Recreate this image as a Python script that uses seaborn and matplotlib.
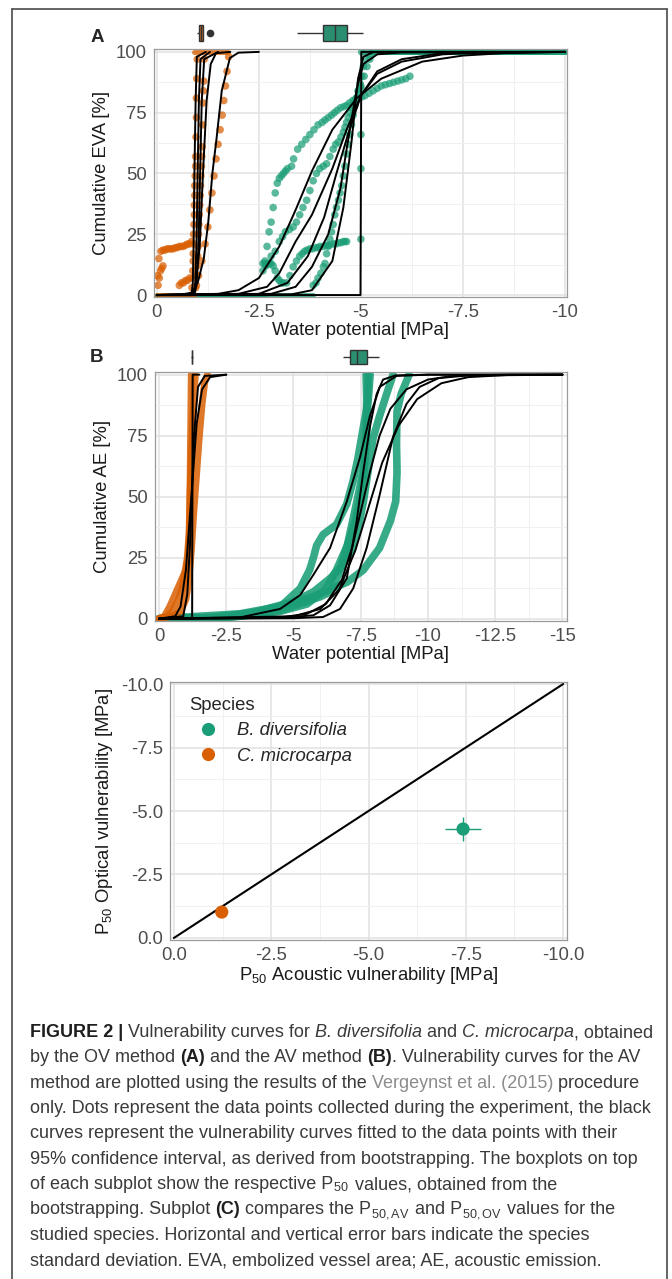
import numpy as np
import pandas as pd
import matplotlib
matplotlib.use("Agg")
from matplotlib import pyplot as plt
from matplotlib.lines import Line2D
import seaborn as sns

GREEN = "#1B9E77"
ORANGE = "#D95F02"
SPECIES = ["B. diversifolia", "C. microcarpa"]

# ---------------- panel A: optical method (EVA) ----------------
# observed points, B. diversifolia
a_bd_pts_x = [
    [-2.6, -2.65, -2.7, -2.75, -2.8, -2.85, -2.9, -2.95, -3.0, -3.05, -3.1, -3.15, -3.2, -3.3, -3.35,
     -3.45, -3.55, -3.65, -3.75, -3.85, -3.95, -4.05, -4.12, -4.2, -4.28, -4.35, -4.42, -4.5, -4.58,
     -4.65, -4.72, -4.8, -4.88, -4.95, -5.02, -5.1, -5.2, -5.3, -5.4, -5.5, -5.6, -5.7, -5.8, -5.9,
     -6.0, -6.1, -6.2],
    [-2.67, -2.75, -2.8, -2.9, -3.0, -3.08, -3.15, -3.25, -3.34, -3.42, -3.5, -3.58, -3.67, -3.75, -3.83,
     -3.91, -3.99, -4.08, -4.16, -4.24, -4.32, -4.38, -4.45, -4.51, -4.57, -4.61, -4.65, -4.69, -4.73,
     -4.77, -4.8, -4.85, -4.89, -4.95, -5.0, -5.08, -5.15, -5.22, -5.3],
    [-2.6, -2.65, -2.7, -2.75, -2.8, -2.85, -2.9, -2.95, -3.0, -3.05, -3.1, -3.18, -3.26, -3.34, -3.42,
     -3.5, -3.56, -3.62, -3.68, -3.75, -3.82, -3.9, -3.95, -4.0, -4.08, -4.15, -4.22, -4.32, -4.38,
     -4.45, -4.51, -4.57, -4.61, -4.65, -5.0, -5.0, -5.0, -5.0, -5.02],
    [-3.83, -3.9, -3.95, -4.02, -4.08, -4.12, -4.16, -4.2, -4.24, -4.28, -4.32, -4.36, -4.4, -4.45,
     -4.49, -4.53, -4.57, -4.61, -4.65, -4.69, -4.73, -4.77, -4.81, -4.85, -4.89, -4.93, -4.98, -5.02,
     -5.06, -5.1, -5.2, -5.3],
]
a_bd_pts_y = [
    [10, 14, 20, 26, 30, 36, 42, 46, 48, 49, 50, 51, 52, 53, 56,
     60, 62, 64, 66, 68, 70, 71, 72, 73, 74, 75, 76, 77, 77.5,
     78, 79, 80, 80.5, 81, 81.5, 82, 83, 84, 85, 86, 86.5, 87, 87.5, 88,
     88.5, 89, 90],
    [12, 13, 16, 18, 22, 24, 26, 27, 28, 30, 33, 36, 39, 43, 47,
     50, 52, 53, 54, 57, 60, 62, 63, 65, 67, 69, 71, 73, 75,
     77, 78, 80, 81, 84, 86, 90, 94, 97, 100],
    [13, 13, 12.5, 13, 13, 12, 10, 7, 6, 5, 5, 5, 8, 11.6, 14,
     16, 17, 18, 18.5, 19, 19, 19.5, 19.5, 20, 20, 20.5, 20.5, 21, 21,
     21.5, 21.5, 22, 22, 22, 23, 52, 66, 85, 100],
    [4, 5, 7, 9, 11.6, 13, 17, 20, 23, 26, 29, 33, 36, 39,
     42, 45, 49, 53, 58, 62, 66, 70, 74, 78, 81, 84, 87, 90,
     94, 97, 99, 100],
]
a_bd_zero_end = [-2.6, -2.65, -2.65, -3.83]
a_bd_top_start = [-5.3, -5.02, -5.3]

# observed points, C. microcarpa
a_cm_pts_x = [
    [-0.86, -0.87, -0.88, -0.89, -0.89, -0.9, -0.9, -0.91, -0.92, -0.92, -0.93, -0.93, -0.94, -0.95,
     -0.95, -0.96, -0.97, -0.97, -0.98, -0.99],
    [-0.97, -0.98, -0.99, -1.0, -1.01, -1.02, -1.03, -1.04, -1.05, -1.06, -1.07, -1.08, -1.09, -1.1,
     -1.11, -1.12, -1.13, -1.14, -1.15, -1.16],
    [-0.02, -0.05, -0.1, -0.15, -0.2, -0.25, -0.3, -0.35, -0.4, -0.45, -0.5, -0.55, -0.6, -0.65,
     -0.7, -0.75, -0.8, -0.85],
    [-0.03, -0.06, -0.09, -0.12, -0.15, -0.55, -0.6, -0.65, -0.7, -0.75, -0.8],
    [-0.95, -1.02, -1.1, -1.18, -1.25, -1.3, -1.35, -1.4, -1.45, -1.5, -1.55, -1.6, -1.64, -1.68,
     -1.72, -1.76],
]
a_cm_pts_y = [
    [3, 7, 10, 14, 17, 21, 25, 29, 33, 37, 41, 45, 49, 53, 57, 65, 73, 81, 89, 97],
    [4, 8, 12, 16, 20, 25, 29, 33, 37, 41, 45, 49, 53, 57, 61, 70, 79, 84, 88, 97],
    [8, 15, 18, 18.5, 18.5, 19, 19, 19, 19, 19.5, 19.5, 20, 20, 20, 20.5, 21, 21, 22],
    [4, 7, 10, 11, 12, 4, 5, 5, 6, 6, 7],
    [3, 8, 14, 21, 28, 35, 42, 49, 56, 62, 68, 74, 80, 86, 92, 98],
]
a_cm_zero_end = [-0.9]
a_cm_top_span = [-0.9, -1.75]

# fitted vulnerability curves
a_bd_fit_x = [
    [0, -1.5, -2.0, -2.5, -3.0, -3.4, -3.8, -4.3, -4.9, -5.5, -6.5, -7.5, -8.5, -10],
    [0, -2.0, -2.7, -3.0, -3.4, -3.8, -4.3, -4.65, -5.0, -5.4, -6.0, -7.0, -8.0, -10],
    [0, -2.5, -3.2, -3.7, -4.1, -4.4, -4.7, -5.0, -5.4, -6.0, -7.0, -10],
    [0, -2.8, -3.4, -3.8, -4.2, -4.5, -4.65, -4.9, -5.06, -5.4, -6.0, -10],
    [0, -3.3, -3.8, -4.3, -4.57, -4.77, -4.93, -5.06, -5.3, -10],
    [0, -4.99, -5.0, -5.01, -10],
]
a_bd_fit_y = [
    [0, 0.5, 2, 7, 20, 35, 51, 68, 81, 89, 96, 98.5, 99.5, 100],
    [0, 0.5, 3.4, 9, 22, 33, 52, 68, 82, 91, 96, 99, 99.8, 100],
    [0, 0.5, 5, 16, 32, 50, 67, 82, 92, 97, 99.5, 100],
    [0, 0.5, 3.4, 11.6, 25, 44, 60, 85, 95, 99, 99.8, 100],
    [0, 0.3, 2, 14, 36, 63, 89, 98, 99.9, 100],
    [0, 0, 50, 100, 100],
]
a_cm_fit_x = [
    [0, -0.85, -0.88, -0.9, -0.92, -0.95, -0.98, -1.2],
    [0, -0.9, -0.94, -0.97, -1.0, -1.03, -1.07, -1.3],
    [0, -0.92, -0.97, -1.02, -1.06, -1.1, -1.16, -1.5],
    [0, -0.85, -0.95, -1.05, -1.13, -1.22, -1.32, -1.45, -1.8],
    [0, -0.6, -0.85, -1.0, -1.15, -1.26, -1.36, -1.46, -1.59, -1.79, -2.0, -2.5],
]
a_cm_fit_y = [
    [0, 0, 5, 20, 50, 80, 98, 100],
    [0, 0, 5, 20, 50, 80, 97, 100],
    [0, 0, 4, 20, 50, 80, 97, 100],
    [0, 0.3, 3, 20, 50, 80, 95, 99.5, 100],
    [0, 0.2, 1, 5, 15, 30, 50, 64, 84, 97.5, 99.7, 100],
]
# bootstrapped P50 (box summaries)
a_box_bd = [-3.43, -4.07, -4.36, -4.66, -5.05]
a_box_cm = [-0.99, -1.02, -1.06, -1.10, -1.13, -1.30]

# ---------------- panel B: acoustic method (AE) ----------------
b_bd_obs_x = [
    [0, -1.5, -3.0, -4.5, -5.5, -6.2, -6.6, -7.0, -7.3, -7.5, -7.62, -7.7, -7.72, -7.7],
    [0, -3.0, -4.5, -5.7, -7.0, -7.6, -8.2, -8.6, -8.8, -8.85, -8.83, -8.85, -9.0, -9.3],
    [0, -2.0, -3.5, -5.0, -5.74, -6.36, -6.85, -7.2, -7.4, -7.6, -7.78, -7.96, -8.2, -8.46, -8.7],
    [0, -2.5, -3.8, -4.5, -5.25, -5.6, -5.74, -5.86, -6.1, -6.6, -6.98, -7.22, -7.4, -7.6, -7.78, -7.85],
    [0, -2.5, -4.5, -5.25, -6.0, -6.36, -6.67, -6.98, -7.22, -7.47, -7.65, -7.74, -7.78],
]
b_bd_obs_y = [
    [0, 0, 1, 3, 6, 12, 20, 30, 40, 50, 60, 75, 90, 100],
    [0, 2, 5, 9, 15, 20, 29, 40, 48, 60, 72, 85, 92, 100],
    [0, 0.5, 2.5, 7, 11, 16.5, 22, 29, 37, 48, 61, 74, 83, 92, 100],
    [0, 0.5, 2, 4.8, 12.4, 20, 25, 30, 34.5, 38.6, 47, 56.6, 66, 78.6, 89.7, 100],
    [0, 0.5, 3.4, 6.2, 9, 11, 18, 29, 41, 54, 65, 78.6, 100],
]
b_cm_obs_x = [
    [0, -0.3, -0.5, -0.7, -0.85, -0.95, -1.05, -1.12, -1.15, -1.2, -1.25, -1.3, -1.35],
    [0, -0.5, -0.8, -1.0, -1.1, -1.2, -1.3, -1.4, -1.5, -1.6, -1.7, -1.8],
    [0, -0.2, -0.4, -0.6, -0.8, -1.0, -1.1, -1.14, -1.16, -1.18, -1.2],
]
b_cm_obs_y = [
    [0, 1, 3, 7, 12, 18, 25, 35, 50, 65, 80, 92, 100],
    [0, 1, 3, 8, 15, 28, 45, 60, 75, 88, 97, 100],
    [0, 1, 5, 10, 15, 20, 26, 40, 60, 80, 100],
]
b_bd_fit_x = [
    [0, -3.0, -4.5, -5.25, -5.74, -6.36, -6.98, -7.47, -7.84, -8.21, -8.83, -10, -15],
    [0, -4.5, -5.74, -6.36, -6.98, -7.35, -7.6, -7.84, -8.09, -8.33, -8.8, -10, -15],
    [0, -5.0, -6.1, -6.73, -7.22, -7.72, -8.21, -8.7, -9.2, -9.69, -10.4, -11.5, -13, -15],
    [0, -4.5, -5.5, -6.2, -6.8, -7.2, -7.5, -7.84, -8.2, -8.6, -9.2, -10, -11, -15],
    [0, -5.0, -6.0, -6.7, -7.3, -7.8, -8.3, -8.9, -9.6, -10.5, -11.5, -13, -15],
]
b_bd_fit_y = [
    [0, 0.5, 4, 9.7, 18, 29, 48, 66, 83, 95, 99.5, 100, 100],
    [0, 0.3, 1.4, 5.5, 16.5, 40, 60.7, 78.6, 92, 98, 99.7, 100, 100],
    [0, 0.2, 0.7, 4, 12.4, 29, 51, 74.5, 88, 95, 98.6, 99.7, 100, 100],
    [0, 0.5, 2, 6, 16, 30, 44, 60, 75, 86, 94, 98, 99.6, 100],
    [0, 1, 4, 12, 28, 46, 64, 79, 90, 96.5, 99, 99.9, 100],
]
b_cm_fit_x = [
    [0, -1.23, -1.24, -1.25, -1.5],
    [0, -0.6, -0.8, -1.0, -1.2, -1.4, -1.6, -1.9, -2.5],
    [0, -0.9, -1.05, -1.15, -1.22, -1.3, -1.45, -1.7, -2.5],
]
b_cm_fit_y = [
    [0, 0, 50, 100, 100],
    [0, 1, 5, 20, 50, 80, 94, 99, 100],
    [0, 1, 10, 30, 50, 75, 95, 99.5, 100],
]
b_box_bd = [-6.84, -7.10, -7.36, -7.73, -8.18]
b_box_cm = [-1.19, -1.21, -1.22, -1.23, -1.25]

# ---------------- panel C: P50 comparison ----------------
c_av = [-7.43, -1.23]
c_ov = [-4.29, -1.02]
c_av_sd = [0.47, 0.08]
c_ov_sd = [0.47, 0.06]
c_diag = [0.0, -10.0]

xt_10 = [0, -2.5, -5, -7.5, -10]
xt_10_labels = ["0", "-2.5", "-5", "-7.5", "-10"]
xt_15 = [0, -2.5, -5, -7.5, -10, -12.5, -15]
xt_15_labels = ["0", "-2.5", "-5", "-7.5", "-10", "-12.5", "-15"]
c_tick_labels = ["0.0", "-2.5", "-5.0", "-7.5", "-10.0"]
yt_pct = [0, 25, 50, 75, 100]
yt_pct_labels = ["0", "25", "50", "75", "100"]

caption_lines = [
    [("FIGURE 2 |", "b"), (" Vulnerability curves for ", "n"), ("B. diversifolia", "i"), (" and ", "n"),
     ("C. microcarpa", "i"), (", obtained", "n")],
    [("by the OV method ", "n"), ("(A)", "b"), (" and the AV method ", "n"), ("(B)", "b"),
     (". Vulnerability curves for the AV", "n")],
    [("method are plotted using the results of the ", "n"), ("Vergeynst et al. (2015)", "g"),
     (" procedure", "n")],
    [("only. Dots represent the data points collected during the experiment, the black", "n")],
    [("curves represent the vulnerability curves fitted to the data points with their", "n")],
    [("95% confidence interval, as derived from bootstrapping. The boxplots on top", "n")],
    [("of each subplot show the respective P", "n"), ("$_{50}$", "n"), (" values, obtained from the", "n")],
    [("bootstrapping. Subplot ", "n"), ("(C)", "b"), (" compares the P", "n"), ("$_{50,AV}$", "n"),
     (" and P", "n"), ("$_{50,OV}$", "n"), (" values for the", "n")],
    [("studied species. Horizontal and vertical error bars indicate the species", "n")],
    [("standard deviation. EVA, embolized vessel area; AE, acoustic emission.", "n")],
]

# ---------------- styling ----------------
sns.set_style("white")
plt.rcParams["font.family"] = ["Liberation Sans", "DejaVu Sans"]
plt.rcParams["axes.unicode_minus"] = False
plt.rcParams["mathtext.fontset"] = "custom"
plt.rcParams["mathtext.rm"] = "Liberation Sans"
plt.rcParams["mathtext.it"] = "Liberation Sans:italic"
plt.rcParams["mathtext.bf"] = "Liberation Sans:bold"
plt.rcParams["mathtext.default"] = "regular"

W, H = 672, 1279
fig = plt.figure(figsize=(W / 100, H / 100), dpi=100)


def px_axes(left, top, right, bottom, **kw):
    return fig.add_axes([left / W, 1 - bottom / H, (right - left) / W, (bottom - top) / H], **kw)


def style_panel(ax, xt, xl, xminor, yt, yl, yminor):
    ax.set_xticks(xt, xl)
    ax.set_xticks(xminor, minor=True)
    ax.set_yticks(yt, yl)
    ax.set_yticks(yminor, minor=True)
    ax.grid(which="major", color="#E2E2E2", lw=1.1)
    ax.grid(which="minor", color="#F0F0F0", lw=0.7)
    ax.set_axisbelow(True)
    ax.tick_params(which="major", length=3.5, width=0.8, color="#555555",
                   labelcolor="#4D4D4D", labelsize=13.3, pad=1.5)
    ax.tick_params(which="minor", length=0)
    for s in ax.spines.values():
        s.set_color("#9A9A9A")
        s.set_linewidth(0.9)


def line(ax, xs, ys, color, lw, alpha=1.0, z=2):
    sns.lineplot(x=xs, y=ys, ax=ax, color=color, lw=lw, alpha=alpha, sort=False,
                 estimator=None, zorder=z, solid_capstyle="round")


def draw_box(axb, bd_vals, cm_vals):
    df = pd.DataFrame({"p50": bd_vals + cm_vals, "row": "p50",
                       "species": [SPECIES[0]] * len(bd_vals) + [SPECIES[1]] * len(cm_vals)})
    sns.boxplot(data=df, x="p50", y="row", hue="species", palette=[GREEN, ORANGE], dodge=False,
                width=0.6, linewidth=1.0, linecolor="#333333", showcaps=False, fliersize=4.5,
                flierprops=dict(marker="o", markerfacecolor="#333333", markeredgecolor="#333333"),
                legend=False, ax=axb)
    axb.axis("off")


# ---- panel A ----
axA = px_axes(154, 49, 567, 297)
axAb = px_axes(154, 20, 567, 46, sharex=axA)
for xs, ys in zip(a_bd_pts_x, a_bd_pts_y):
    sns.scatterplot(x=xs, y=ys, ax=axA, color=GREEN, s=30, alpha=0.72, edgecolor="none", zorder=2)
for end in a_bd_zero_end:
    line(axA, [0, end], [0, 0], GREEN, 3.5, 0.8)
for start in a_bd_top_start:
    line(axA, [start, -10], [100, 100], GREEN, 3.5, 0.8)
for xs, ys in zip(a_cm_pts_x, a_cm_pts_y):
    sns.scatterplot(x=xs, y=ys, ax=axA, color=ORANGE, s=30, alpha=0.72, edgecolor="none", zorder=2)
for end in a_cm_zero_end:
    line(axA, [0, end], [0, 0], ORANGE, 3.5, 0.8)
line(axA, a_cm_top_span, [100, 100], ORANGE, 3.5, 0.8)
for xs, ys in zip(a_bd_fit_x + a_cm_fit_x, a_bd_fit_y + a_cm_fit_y):
    line(axA, xs, ys, "black", 1.4, 1.0, 3)
draw_box(axAb, a_box_bd, a_box_cm)
style_panel(axA, xt_10, xt_10_labels, [-1.25, -3.75, -6.25, -8.75],
            yt_pct, yt_pct_labels, [12.5, 37.5, 62.5, 87.5])
axA.set_xlim(0.07, -10.05)
axA.set_ylim(-0.8, 101.2)
axA.set_xlabel("Water potential [MPa]", fontsize=13.3, labelpad=1, color="#1A1A1A")
axA.set_ylabel("Cumulative EVA [%]", fontsize=13.3, labelpad=4, color="#1A1A1A")

# ---- panel B ----
axB = px_axes(155, 372, 567, 621)
axBb = px_axes(155, 345, 567, 369, sharex=axB)
for xs, ys in zip(b_bd_obs_x, b_bd_obs_y):
    line(axB, xs, ys, GREEN, 5.5, 0.88)
for xs, ys in zip(b_cm_obs_x, b_cm_obs_y):
    line(axB, xs, ys, ORANGE, 5.0, 0.85)
for xs, ys in zip(b_bd_fit_x + b_cm_fit_x, b_bd_fit_y + b_cm_fit_y):
    line(axB, xs, ys, "black", 1.4, 1.0, 3)
draw_box(axBb, b_box_bd, b_box_cm)
style_panel(axB, xt_15, xt_15_labels, [-1.25, -3.75, -6.25, -8.75, -11.25, -13.75],
            yt_pct, yt_pct_labels, [12.5, 37.5, 62.5, 87.5])
axB.set_xlim(0.15, -15.17)
axB.set_ylim(-0.94, 101.1)
axB.set_xlabel("Water potential [MPa]", fontsize=13.3, labelpad=1, color="#1A1A1A")
axB.set_ylabel("Cumulative AE [%]", fontsize=13.3, labelpad=4, color="#1A1A1A")

# ---- panel C ----
axC = px_axes(170, 682, 567, 940)
line(axC, c_diag, c_diag, "black", 1.5, 1.0, 2)
for i, col in enumerate([GREEN, ORANGE]):
    axC.errorbar(c_av[i], c_ov[i], xerr=c_av_sd[i], yerr=c_ov_sd[i], fmt="none",
                 ecolor=col, elinewidth=1.0, capsize=0, zorder=3)
sns.scatterplot(x=c_av, y=c_ov, hue=SPECIES, palette=[GREEN, ORANGE], s=90,
                edgecolor="none", ax=axC, zorder=4)
style_panel(axC, xt_10, c_tick_labels, [-1.25, -3.75, -6.25, -8.75],
            xt_10, c_tick_labels, [-1.25, -3.75, -6.25, -8.75])
axC.set_xlim(0.1, -10.1)
axC.set_ylim(0.08, -10.08)
axC.set_xlabel("P$_{50}$ Acoustic vulnerability [MPa]", fontsize=13.3, labelpad=1, color="#1A1A1A")
axC.set_ylabel("P$_{50}$ Optical vulnerability [MPa]", fontsize=13.3, labelpad=4, color="#1A1A1A")
handles, labels = axC.get_legend_handles_labels()
axC.legend(handles, labels, title="Species", loc="upper left", bbox_to_anchor=(0.03, 0.97),
           frameon=False, prop={"style": "italic", "size": 13.3},
           title_fontproperties={"size": 13.3}, labelspacing=0.45, handletextpad=0.6,
           borderaxespad=0.0, alignment="left")

# panel letters
fig.text(97 / W, 1 - 37 / H, "A", fontsize=13.5, fontweight="bold", ha="center", va="center")
fig.text(97 / W, 1 - 357 / H, "B", fontsize=13.5, fontweight="bold", ha="center", va="center")

# frame lines
for xs, ys in [([12, 667], [9, 9]), ([12, 12], [9, H]), ([667, 667], [9, H])]:
    fig.add_artist(Line2D([x / W for x in xs], [1 - y / H for y in ys], color="#4A4A4A", lw=1.2))

# ---------------- caption ----------------
renderer = fig.canvas.get_renderer()
cap_family = ["Liberation Sans Narrow", "Liberation Sans", "DejaVu Sans"]
styles = {
    "n": dict(color="#3A3A3A"),
    "b": dict(color="#1E1E1E", fontweight="bold"),
    "i": dict(color="#3A3A3A", fontstyle="italic"),
    "g": dict(color="#8C8C8C"),
}


def seg_width(s, size, kind):
    t1 = fig.text(0, 0, "x" + s + "x", fontsize=size, family=cap_family, **styles[kind])
    t0 = fig.text(0, 0, "xx", fontsize=size, family=cap_family, **styles[kind])
    w = t1.get_window_extent(renderer).width - t0.get_window_extent(renderer).width
    t1.remove()
    t0.remove()
    return w


ref = sum(seg_width(s, 10, k) for s, k in caption_lines[0])
cap_size = 10 * 625 / ref
for i, segs in enumerate(caption_lines):
    x = 30
    yb = 1037 + 25.35 * i
    for s, k in segs:
        fig.text(x / W, 1 - yb / H, s, fontsize=cap_size, family=cap_family, va="baseline",
                 ha="left", **styles[k])
        x += seg_width(s, cap_size, k)

fig.savefig("out.png", dpi=100)
